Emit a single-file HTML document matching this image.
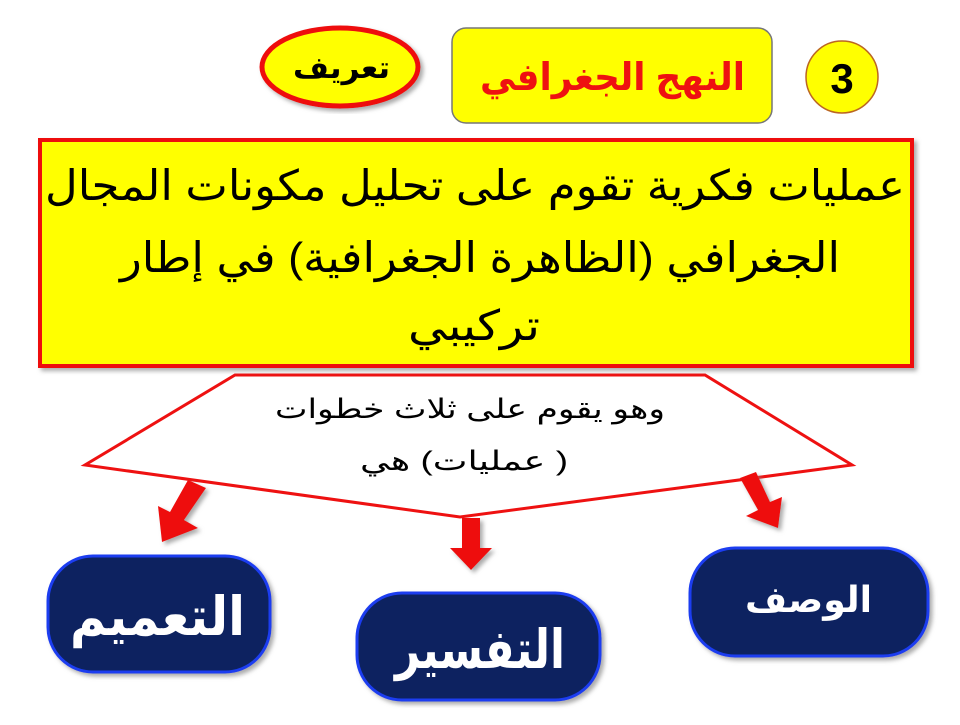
<!DOCTYPE html>
<html><head><meta charset="utf-8"><style>
body{margin:0;background:#fff;width:960px;height:720px;overflow:hidden}
svg text{font-family:"Liberation Sans","DejaVu Sans",sans-serif;font-weight:bold;direction:rtl;unicode-bidi:embed}
</style></head><body>
<svg width="960" height="720" viewBox="0 0 960 720">
<defs>
<filter id="sh" x="-10%" y="-10%" width="120%" height="120%"><feDropShadow dx="3" dy="3" stdDeviation="2" flood-color="#888" flood-opacity="0.7"/></filter>
</defs>
<ellipse cx="340" cy="67" rx="78" ry="39" fill="#ffff00" stroke="#ee1111" stroke-width="5" filter="url(#sh)"/>
<text x="390" y="78" font-size="30" fill="#000" textLength="97" lengthAdjust="spacingAndGlyphs">تعريف</text>
<rect x="452" y="28" width="320" height="95" rx="14" fill="#ffff00" stroke="#777" stroke-width="1.5"/>
<text x="745" y="90" font-size="38" fill="#ee1111" textLength="265" lengthAdjust="spacingAndGlyphs">النهج الجغرافي</text>
<circle cx="842" cy="77" r="36" fill="#ffff00" stroke="#bb6622" stroke-width="1.5"/>
<text x="842" y="93" font-size="42" text-anchor="middle" fill="#000" style="direction:ltr">3</text>
<polygon points="235,375 705,375 852,465 460,517 85,465" fill="#fff" stroke="#ee1111" stroke-width="3"/>
<rect x="40" y="140" width="872" height="226" fill="#ffff00" stroke="#ee1111" stroke-width="4" filter="url(#sh)"/>
<text x="905" y="200" font-size="42" style="font-weight:normal" textLength="860" lengthAdjust="spacingAndGlyphs">عمليات فكرية تقوم على تحليل مكونات المجال</text>
<text x="840" y="272" font-size="42" style="font-weight:normal" textLength="720" lengthAdjust="spacingAndGlyphs">الجغرافي (الظاهرة الجغرافية) في إطار</text>
<text x="540" y="340" font-size="42" style="font-weight:normal" textLength="132" lengthAdjust="spacingAndGlyphs">تركيبي</text>
<text x="665" y="418" font-size="27" style="font-weight:normal" textLength="390" lengthAdjust="spacingAndGlyphs">وهو يقوم على ثلاث خطوات</text>
<text x="568" y="470" font-size="27" style="font-weight:normal" textLength="208" lengthAdjust="spacingAndGlyphs">( عمليات) هي</text>
<g fill="#ee1111" filter="url(#sh)">
<polygon points="188,480 206,488 184,520 198,528 162,542 158,506 170,512"/>
<polygon points="462,518 480,518 480,548 492,548 471,570 450,548 462,548"/>
<polygon points="740,478 756,472 770,502 782,497 778,528 746,516 758,510"/>
</g>
<g stroke="#1a3cf0" stroke-width="3" fill="#0c2360" filter="url(#sh)">
<rect x="48" y="556" width="222" height="116" rx="45"/>
<rect x="357" y="593" width="243" height="107" rx="45"/>
<rect x="690" y="548" width="238" height="108" rx="45"/>
</g>
<text x="245" y="635" font-size="54" fill="#fff" textLength="175" lengthAdjust="spacingAndGlyphs">التعميم</text>
<text x="565" y="668" font-size="54" fill="#fff" textLength="170" lengthAdjust="spacingAndGlyphs">التفسير</text>
<text x="872" y="612" font-size="36" fill="#fff" textLength="127" lengthAdjust="spacingAndGlyphs">الوصف</text>
</svg>
</body></html>
